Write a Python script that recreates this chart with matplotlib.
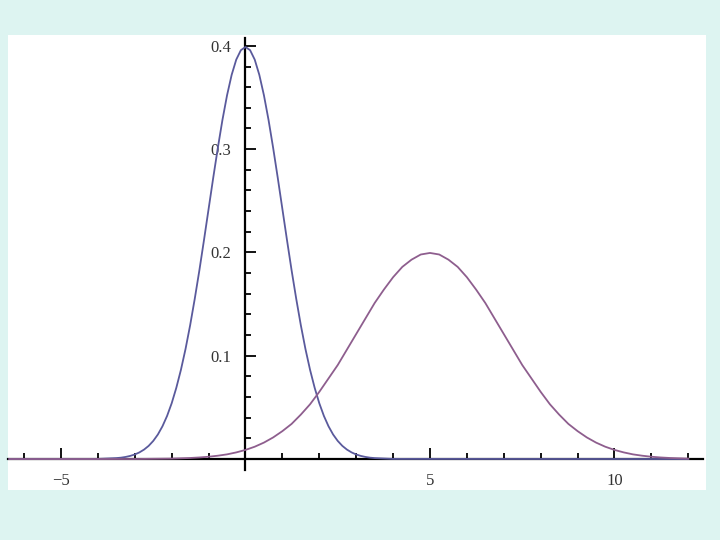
import matplotlib.pyplot as plt
import numpy as np
from matplotlib.ticker import FixedLocator

# first curve (peak 0.4 at x = 0), read at steps of 0.125 around the peak
x_blue = np.concatenate([[-6.4, -4.0], np.arange(-3.5, 3.501, 0.125), [4.0, 12.0]])
half_blue = [0.0009, 0.0013, 0.0020, 0.0030, 0.0044, 0.0064, 0.0091, 0.0127,
             0.0175, 0.0237, 0.0317, 0.0417, 0.0540, 0.0689, 0.0863, 0.1065,
             0.1295, 0.1551, 0.1826, 0.2119, 0.2420, 0.2721, 0.3011, 0.3282,
             0.3521, 0.3719, 0.3867, 0.3958]
y_blue = [0.0, 0.0001] + half_blue + [0.3989] + half_blue[::-1] + [0.0001, 0.0]

# second curve (peak 0.2 at x = 5), step 0.25 from -3 to 12
x_purple = np.concatenate([[-6.4], np.arange(-3, 12.001, 0.25)])
half_purple = [0.0000, 0.0001, 0.0002, 0.0003, 0.0004, 0.0007, 0.0010, 0.0015,
               0.0022, 0.0032, 0.0045, 0.0064, 0.0088, 0.0119, 0.0159, 0.0209,
               0.0270, 0.034, 0.043, 0.053, 0.065, 0.078, 0.091, 0.106, 0.121,
               0.136, 0.151, 0.164, 0.176, 0.186, 0.193, 0.198]
y_purple = [0.0] + half_purple + [0.1995] + half_purple[::-1][:28]

x_major = [-5, 5, 10]
x_labels = ["\u22125", "5", "10"]
y_major = [0.1, 0.2, 0.3, 0.4]
y_labels = ["0.1", "0.2", "0.3", "0.4"]

fig = plt.figure(figsize=(7.2, 5.4), dpi=100)
fig.patch.set_facecolor("#ddf4f1")
ax = fig.add_axes([8 / 720, 50 / 540, 698 / 720, 455 / 540])
ax.set_facecolor("white")

ax.plot(x_blue, y_blue, color="#5a5a9c", lw=1.3, zorder=3)
ax.plot(x_purple, y_purple, color="#8e5e8e", lw=1.3, zorder=3)

ax.set_xlim(-6.436, 12.48)
ax.set_ylim(-0.030, 0.4105)

# axes through the origin
for s in ["top", "right"]:
    ax.spines[s].set_visible(False)
ax.spines["left"].set_position(("data", 0))
ax.spines["bottom"].set_position(("data", 0))
ax.spines["bottom"].set_bounds(-6.436, 12.4)
ax.spines["left"].set_bounds(-0.0106, 0.4075)
ax.spines["left"].set_linewidth(1.6)
ax.spines["bottom"].set_linewidth(1.6)

ax.xaxis.set_major_locator(FixedLocator(x_major))
ax.xaxis.set_minor_locator(FixedLocator([v for v in range(-6, 13) if v not in x_major + [0]]))
ax.yaxis.set_major_locator(FixedLocator(y_major))
ax.yaxis.set_minor_locator(FixedLocator([round(0.02 * i, 2) for i in range(1, 21) if i % 5 != 0]))
ax.set_xticklabels(x_labels)
ax.set_yticklabels(y_labels)

ax.tick_params(which="both", direction="in", colors="black", width=1.3)
ax.tick_params(which="major", length=8)
ax.tick_params(which="minor", length=4.5)
ax.tick_params(axis="x", pad=10, labelsize=12, labelcolor="#333333")
ax.tick_params(axis="y", pad=10, labelsize=12, labelcolor="#333333")
for lab in ax.get_xticklabels() + ax.get_yticklabels():
    lab.set_family("Liberation Serif")

fig.savefig("out.png", dpi=100, facecolor=fig.get_facecolor())
